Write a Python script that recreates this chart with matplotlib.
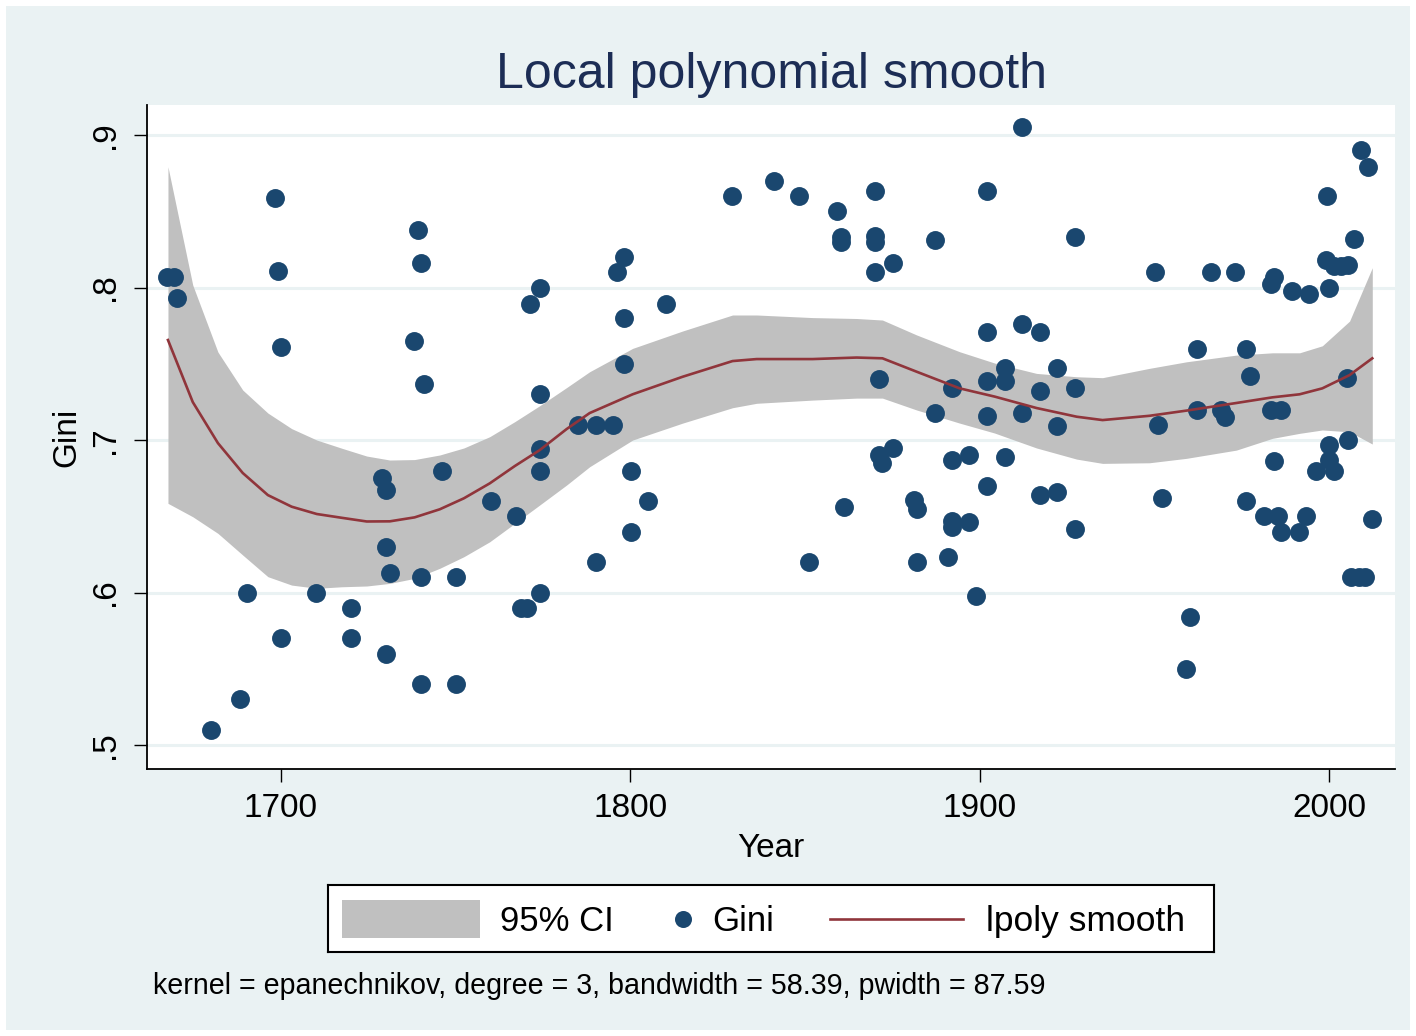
import matplotlib.pyplot as plt
from matplotlib.patches import Rectangle

plt.rcParams['font.family'] = ['Liberation Sans', 'DejaVu Sans']

year = [1667.5, 1669.4, 1670.2, 1680.1, 1688.2, 1690.2, 1698.2, 1699.1, 1700.1, 1700.1,
        1710.1, 1720.1, 1720.1, 1729.1, 1730.1, 1730.1, 1731.2, 1730.1, 1739.2, 1740.1,
        1738.1, 1741.1, 1740.1, 1740.1, 1746.2, 1750.2, 1750.2, 1760.2, 1767.2, 1768.7,
        1770.4, 1771.2, 1774.2, 1774.2, 1774.2, 1774.2, 1774.2, 1785.2, 1790.1, 1795.2,
        1790.1, 1796.1, 1798.1, 1798.1, 1798.1, 1800.1, 1800.1, 1805.2, 1810.2, 1829.1,
        1841.1, 1848.2, 1851.2, 1859.2, 1860.2, 1860.2, 1861.2, 1870.2, 1870.2, 1870.2,
        1870.2, 1871.2, 1871.1, 1872.2, 1875.2, 1875.2, 1881.2, 1882.2, 1882.2, 1887.2,
        1887.2, 1891.1, 1892.1, 1892.1, 1892.1, 1892.1, 1897.1, 1897.1, 1899.1, 1902.2,
        1902.2, 1902.2, 1902.2, 1902.2, 1907.2, 1907.2, 1907.2, 1912.1, 1912.1, 1912.1,
        1917.2, 1917.2, 1917.2, 1922.1, 1922.1, 1922.1, 1927.3, 1927.3, 1927.3, 1950.3,
        1951.2, 1952.3, 1960.2, 1959.2, 1962.2, 1962.2, 1966.2, 1969.2, 1970.2, 1973.2,
        1976.3, 1977.3, 1976.3, 1981.3, 1983.3, 1984.2, 1983.3, 1984.2, 1985.4, 1986.2,
        1986.3, 1989.3, 1991.3, 1993.3, 1994.2, 1996.3, 1999.3, 1999.2, 2000.1, 2000.1,
        2000.1, 2001.3, 2001.5, 2003.5, 2005.4, 2005.2, 2005.4, 2007.3, 2006.4, 2008.5,
        2010.4, 2009.3, 2011.2, 2012.2]
gini = [.807, .807, .793, .510, .530, .600, .859, .811, .761, .570,
        .600, .590, .570, .675, .667, .630, .613, .560, .838, .816,
        .765, .737, .610, .540, .680, .610, .540, .660, .650, .590,
        .590, .789, .800, .730, .694, .680, .600, .710, .710, .710,
        .620, .810, .820, .780, .750, .680, .640, .660, .789, .860,
        .870, .860, .620, .850, .833, .830, .656, .863, .834, .830,
        .810, .740, .690, .685, .816, .695, .661, .655, .620, .831,
        .718, .623, .734, .687, .647, .643, .690, .646, .598, .863,
        .771, .739, .716, .670, .747, .739, .689, .905, .776, .718,
        .771, .732, .664, .747, .709, .666, .833, .734, .642, .810,
        .710, .662, .584, .550, .760, .720, .810, .720, .715, .810,
        .760, .742, .660, .650, .802, .807, .720, .686, .650, .640,
        .720, .798, .640, .650, .796, .680, .860, .818, .800, .697,
        .687, .680, .814, .814, .815, .741, .700, .832, .610, .610,
        .610, .890, .879, .648]

# lpoly smooth and its 95% CI
grid_year = [1667.7, 1674.8, 1682.0, 1689.1, 1696.3, 1703.1, 1710.3, 1717.5, 1724.6, 1731.2,
             1738.3, 1745.5, 1752.4, 1759.8, 1767.0, 1774.1, 1781.8, 1788.4, 1800.7, 1815.0,
             1829.3, 1836.2, 1852.2, 1864.8, 1872.2, 1882.0, 1894.3, 1904.3, 1916.3, 1927.8,
             1935.2, 1948.6, 1959.2, 1973.5, 1983.8, 1991.6, 1998.1, 2005.9, 2012.4]
smooth = [.7656, .7249, .6980, .6784, .6639, .6563, .6515, .6490, .6466, .6467,
          .6493, .6546, .6618, .6716, .6830, .6934, .7072, .7177, .7300, .7415,
          .7518, .7531, .7531, .7541, .7536, .7448, .7339, .7285, .7210, .7153,
          .7131, .7159, .7193, .7243, .7280, .7300, .7339, .7426, .7536]
ci_high = [.8792, .8016, .7577, .7328, .7177, .7075, .7000, .6946, .6895, .6869,
           .6872, .6902, .6948, .7022, .7121, .7225, .7344, .7448, .7601, .7715,
           .7820, .7820, .7803, .7797, .7787, .7689, .7579, .7505, .7437, .7415,
           .7409, .7470, .7513, .7557, .7572, .7572, .7618, .7780, .8130]
ci_low = [.6585, .6497, .6388, .6246, .6104, .6049, .6028, .6038, .6043, .6060,
          .6093, .6159, .6235, .6333, .6454, .6574, .6705, .6825, .7000, .7111,
          .7212, .7241, .7262, .7275, .7275, .7197, .7111, .7046, .6948, .6875,
          .6847, .6851, .6880, .6934, .7011, .7044, .7066, .7054, .6974]

xticks = [1700, 1800, 1900, 2000]
yticks = [.5, .6, .7, .8, .9]
ytick_labels = ['.5', '.6', '.7', '.8', '.9']
note = 'kernel = epanechnikov, degree = 3, bandwidth = 58.39, pwidth = 87.59'

NAVY = '#1a476f'
MAROON = '#90353b'
BAND = '#c0c0c0'
BG = '#eaf2f3'
TITLE = '#1c2d55'

W, H = 1416, 1036


def px_box(x0, y0, x1, y1):
    # pixel box (from top-left) -> figure fraction rect
    return [x0 / W, 1 - y1 / H, (x1 - x0) / W, (y1 - y0) / H]


fig = plt.figure(figsize=(W / 100, H / 100), dpi=100, facecolor='white')
fig.patches.append(Rectangle((6 / W, 6 / H), 1 - 12 / W, 1 - 12 / H,
                             transform=fig.transFigure, facecolor=BG,
                             edgecolor='none', zorder=-10))

ax = fig.add_axes(px_box(147, 105, 1395, 769))
ax.set_facecolor('white')
ax.fill_between(grid_year, ci_low, ci_high, color=BAND, linewidth=0, zorder=2)
ax.scatter(year, gini, s=185, color=NAVY, linewidths=0, zorder=3)
ax.plot(grid_year, smooth, color=MAROON, lw=1.9, zorder=4)

ax.set_xlim(1661.7, 2018.9)
ax.set_ylim(0.4843, 0.9197)
ax.set_xticks(xticks)
ax.set_yticks(yticks)
ax.set_yticklabels(ytick_labels, rotation=90, va='center')
ax.grid(axis='y', color=BG, lw=2.2)
ax.set_axisbelow(True)

for side in ['top', 'right']:
    ax.spines[side].set_visible(False)
for side in ['left', 'bottom']:
    ax.spines[side].set_linewidth(1.3)
ax.tick_params(axis='both', direction='out', length=9.5, width=1, labelsize=24)
ax.tick_params(axis='x', pad=8)
ax.tick_params(axis='y', pad=9)

ax.set_xlabel('Year', fontsize=24, labelpad=6)
ax.set_ylabel('Gini', fontsize=24, labelpad=6)

fig.text(771 / W, 1 - 88 / H, 'Local polynomial smooth', fontsize=36,
         color=TITLE, ha='center', va='baseline')

# legend box drawn by hand to match the Stata layout
lg = fig.add_axes(px_box(328, 885, 1214, 952))
lg.set_xlim(0, 886)
lg.set_ylim(67, 0)
lg.set_xticks([])
lg.set_yticks([])
lg.set_facecolor('white')
for sp in lg.spines.values():
    sp.set_linewidth(1.5)
    sp.set_color('black')
lg.add_patch(Rectangle((14, 15), 138, 38, facecolor=BAND, edgecolor='none'))
lg.text(172, 36, '95% CI', fontsize=25, va='center')
lg.scatter([355], [34], s=150, color=NAVY, linewidths=0)
lg.text(384, 36, 'Gini', fontsize=25, va='center')
lg.plot([502, 635], [34, 34], color=MAROON, lw=1.9)
lg.text(658, 36, 'lpoly smooth', fontsize=25.5, va='center')

fig.text(153 / W, 1 - 994 / H, note, fontsize=20.6, ha='left', va='baseline')

fig.savefig('out.png', dpi=100, facecolor=fig.get_facecolor())
